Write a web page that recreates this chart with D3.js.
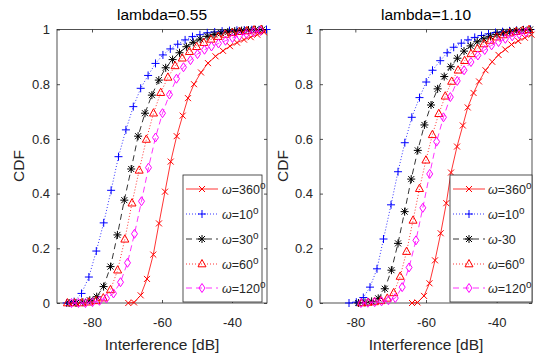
<!DOCTYPE html>
<html><head><meta charset="utf-8">
<script src="https://cdn.jsdelivr.net/npm/d3@7"></script>
<style>body{margin:0;background:#fff}svg{display:block}text{font-family:"Liberation Sans",Arial,sans-serif}</style>
</head><body><svg id="c" width="538" height="361"></svg>
<script>
// ---------- data ----------
const titles = ["lambda=0.55", "lambda=1.10"];
const xTicks = [-80, -60, -40];
const yTicks = [0, 0.2, 0.4, 0.6, 0.8, 1];
const yTickLabels = ["0", "0.2", "0.4", "0.6", "0.8", "1"];
const xLabel = "Interference [dB]";
const yLabel = "CDF";

// left panel (lambda=0.55)
const L360x = [-69.63,-68.0,-66.09,-64.29,-62.49,-60.86,-59.14,-57.51,-55.8,-54.09,-52.57,-50.86,-48.86,-46.86,-44.71,-42.57,-40.57,-38.57,-36.57,-34.66,-32.77,-30.86];
const L360y = [0,0.002,0.028,0.088,0.177,0.291,0.407,0.517,0.61,0.685,0.749,0.8,0.843,0.877,0.902,0.922,0.939,0.952,0.963,0.972,0.981,0.99];
const L10x = [-87.23,-85.11,-83.0,-80.89,-78.77,-76.66,-74.54,-72.43,-70.31,-68.2,-66.09,-63.97,-61.86,-59.74,-57.63,-55.51,-53.4,-51.29,-49.17,-47.06,-44.94,-42.83,-40.71,-38.6,-36.49,-34.37,-32.26,-30.14];
const L10y = [0,0.005,0.035,0.095,0.19,0.293,0.412,0.535,0.633,0.718,0.785,0.832,0.876,0.907,0.929,0.946,0.962,0.974,0.981,0.988,0.991,0.994,0.996,0.997,0.998,0.999,0.999,1.0];
const L30x = [-86.54,-84.57,-82.6,-80.63,-78.66,-76.69,-74.71,-72.74,-70.77,-68.8,-66.83,-64.86,-62.89,-60.91,-58.94,-56.97,-55.0,-53.03,-51.06,-49.09,-47.11,-45.14,-43.17,-41.2,-39.23,-37.26,-35.29,-33.31,-31.34];
const L30y = [0,0,0.003,0.01,0.023,0.06,0.133,0.249,0.376,0.49,0.61,0.694,0.76,0.815,0.86,0.89,0.915,0.937,0.953,0.965,0.975,0.982,0.987,0.991,0.994,0.996,0.998,0.999,1.0];
const L60x = [-87.03,-84.98,-82.93,-80.88,-78.82,-76.77,-74.72,-72.67,-70.62,-68.57,-66.52,-64.47,-62.42,-60.37,-58.31,-56.26,-54.21,-52.16,-50.11,-48.06,-46.01,-43.96,-41.91,-39.86,-37.8,-35.75,-33.7,-31.65];
const L60y = [0,0,0,0.003,0.008,0.018,0.048,0.12,0.233,0.365,0.485,0.598,0.694,0.769,0.825,0.867,0.895,0.919,0.937,0.952,0.964,0.974,0.982,0.988,0.992,0.995,0.998,1.0];
const L120x = [-85.86,-83.86,-81.86,-79.86,-77.86,-75.86,-73.86,-71.86,-69.86,-67.86,-65.86,-63.86,-61.86,-59.86,-57.86,-55.86,-53.86,-51.86,-49.86,-47.86,-45.86,-43.86,-41.86,-39.86,-37.86,-35.86,-33.86,-31.86];
const L120y = [0,0,0,0.003,0.008,0.017,0.035,0.076,0.147,0.253,0.372,0.495,0.605,0.694,0.762,0.82,0.862,0.888,0.91,0.926,0.938,0.949,0.959,0.969,0.977,0.984,0.99,0.995];

// right panel (lambda=1.10)
const R360x = [-63.96,-62.4,-60.56,-59.01,-57.45,-55.84,-54.25,-52.92,-51.22,-49.58,-48.19,-46.55,-44.99,-43.16,-41.26,-39.48,-37.58,-35.8,-33.9,-32.03,-30.14];
const R360y = [0,0.002,0.026,0.072,0.156,0.255,0.365,0.477,0.572,0.649,0.715,0.768,0.81,0.851,0.882,0.907,0.927,0.945,0.958,0.97,0.981];
const R10x = [-81.79,-79.73,-77.74,-75.85,-73.87,-72.03,-69.9,-67.92,-66.0,-64.02,-61.84,-59.94,-58.16,-55.98,-54.0,-52.16,-50.01,-48.11,-46.21,-44.29,-42.31,-40.33,-38.34,-36.36,-34.38,-32.4,-30.42];
const R10y = [0,0.003,0.02,0.058,0.125,0.234,0.359,0.48,0.586,0.679,0.751,0.808,0.851,0.886,0.915,0.935,0.95,0.962,0.971,0.978,0.984,0.989,0.992,0.995,0.997,0.999,1.0];
const R30x = [-79.13,-77.26,-75.39,-73.52,-71.66,-69.79,-67.92,-66.05,-64.18,-62.32,-60.45,-58.58,-56.71,-54.84,-52.98,-51.11,-49.24,-47.37,-45.5,-43.64,-41.77,-39.9,-38.03,-36.16,-34.3,-32.43,-30.56];
const R30y = [0,0.002,0.006,0.017,0.052,0.12,0.218,0.334,0.453,0.558,0.651,0.724,0.783,0.828,0.864,0.895,0.921,0.94,0.955,0.966,0.975,0.982,0.988,0.992,0.995,0.998,1.0];
const R60x = [-78.25,-76.43,-74.6,-72.78,-70.96,-69.14,-67.31,-65.49,-63.67,-61.84,-60.02,-58.2,-56.38,-54.55,-52.73,-50.91,-49.08,-47.26,-45.44,-43.62,-41.79,-39.97,-38.15,-36.32,-34.5,-32.68,-30.86];
const R60y = [0,0.002,0.004,0.008,0.017,0.037,0.097,0.188,0.302,0.418,0.522,0.615,0.692,0.756,0.81,0.851,0.886,0.911,0.93,0.947,0.96,0.972,0.98,0.987,0.992,0.996,0.999];
const R120x = [-78.42,-76.47,-74.53,-72.58,-70.63,-68.69,-66.74,-64.79,-62.85,-60.9,-58.95,-57.0,-55.06,-53.11,-51.16,-49.22,-47.27,-45.32,-43.38,-41.43,-39.48,-37.54,-35.59,-33.64,-31.7];
const R120y = [0,0.001,0.003,0.006,0.01,0.018,0.058,0.13,0.229,0.348,0.472,0.59,0.679,0.753,0.812,0.851,0.881,0.905,0.925,0.942,0.954,0.966,0.975,0.983,0.99];

const legendLeft = ["=360", "=10", "=30", "=60", "=120"];
const legendLeftSup = [true, true, true, true, true];
const legendRight = ["=360", "=10", "-30", "=60", "=120"];
const legendRightSup = [true, true, false, true, true];

// ---------- styles ----------
const styles = [
  {color: "#ff0000", marker: "x", dash: null},
  {color: "#0000ff", marker: "+", dash: "1,2"},
  {color: "#000000", marker: "*", dash: "6,4"},
  {color: "#ff0000", marker: "^", dash: "1,2"},
  {color: "#ff00ff", marker: "d", dash: "6,4"}
];
const markerPath = {
  "x": "M-3,-3L3,3M-3,3L3,-3",
  "+": "M-4,0H4M0,-4V4",
  "*": "M-4,0H4M0,-4V4M-3,-3L3,3M-3,3L3,-3",
  "^": "M0,-4.5L4,2.8L-4,2.8Z",
  "d": "M0,-4.5L3,0L0,4.5L-3,0Z"
};

const panels = [
  {title: titles[0], x0: 57, x1: 267, ylab: 19,
   series: [[L360x,L360y],[L10x,L10y],[L30x,L30y],[L60x,L60y],[L120x,L120y]],
   legend: {x: 183, w: 79, lx0: 186, lx1: 218, tx: 222, labels: legendLeft, sup: legendLeftSup}},
  {title: titles[1], x0: 320, x1: 532, ylab: 283,
   series: [[R360x,R360y],[R10x,R10y],[R30x,R30y],[R60x,R60y],[R120x,R120y]],
   legend: {x: 450, w: 82, lx0: 453, lx1: 485, tx: 488, labels: legendRight, sup: legendRightSup}}
];
const yTop = 29.5, yBot = 303;
const axisColor = "#262626";
const svg = d3.select("#c");

panels.forEach(p => {
  const x = d3.scaleLinear().domain([-90, -30]).range([p.x0, p.x1]);
  const y = d3.scaleLinear().domain([0, 1]).range([yBot, yTop]);
  const g = svg.append("g");

  // axes
  const gb = g.append("g").attr("transform", `translate(0,${yBot})`)
    .call(d3.axisBottom(x).tickValues(xTicks).tickSizeInner(-3).tickSizeOuter(0).tickPadding(15)
      .tickFormat(d => d < 0 ? "-" + Math.abs(d) : d));
  const gt = g.append("g").attr("transform", `translate(0,${yTop})`)
    .call(d3.axisTop(x).tickValues(xTicks).tickSizeInner(-3).tickSizeOuter(0).tickFormat(""));
  const gl = g.append("g").attr("transform", `translate(${p.x0},0)`)
    .call(d3.axisLeft(y).tickValues(yTicks).tickSizeInner(-3).tickSizeOuter(0).tickPadding(7)
      .tickFormat((d, i) => yTickLabels[i]));
  const gr = g.append("g").attr("transform", `translate(${p.x1},0)`)
    .call(d3.axisRight(y).tickValues(yTicks).tickSizeInner(-3).tickSizeOuter(0).tickFormat(""));
  [gb, gt, gl, gr].forEach(a => {
    a.select(".domain").remove();
    a.selectAll("line").attr("stroke", axisColor).attr("stroke-width", 0.8);
    a.selectAll("text").attr("fill", axisColor).style("font-size", "13px")
      .style("font-family", '"Liberation Sans",Arial,sans-serif');
  });
  g.append("rect").attr("x", p.x0).attr("y", yTop).attr("width", p.x1 - p.x0).attr("height", yBot - yTop)
    .attr("fill", "none").attr("stroke", axisColor).attr("stroke-width", 0.8);

  // titles and labels
  g.append("text").attr("x", (p.x0 + p.x1) / 2).attr("y", 20).attr("text-anchor", "middle")
    .style("font-size", "15.5px").attr("fill", "#000").text(p.title);
  g.append("text").attr("x", (p.x0 + p.x1) / 2).attr("y", 350).attr("text-anchor", "middle")
    .style("font-size", "15.5px").attr("fill", axisColor).text(xLabel);
  g.append("text").attr("transform", `translate(${p.ylab},166) rotate(-90)`).attr("text-anchor", "middle")
    .attr("dy", "0.35em").style("font-size", "15.5px").attr("fill", axisColor).text(yLabel);

  // series
  const line = d3.line().x(d => x(d[0])).y(d => y(d[1]));
  p.series.forEach((s, i) => {
    const st = styles[i];
    const pts = s[0].map((v, k) => [v, s[1][k]]);
    g.append("path").attr("d", line(pts)).attr("fill", "none").attr("stroke", st.color)
      .attr("stroke-width", 0.8).attr("stroke-dasharray", st.dash);
    g.selectAll(null).data(pts).enter().append("path")
      .attr("transform", d => `translate(${x(d[0])},${y(d[1])})`)
      .attr("d", markerPath[st.marker]).attr("fill", "none").attr("stroke", st.color).attr("stroke-width", 1);
  });

  // legend
  const L = p.legend;
  const lg = g.append("g");
  lg.append("rect").attr("x", L.x).attr("y", 175).attr("width", L.w).attr("height", 127)
    .attr("fill", "#fff").attr("stroke", axisColor).attr("stroke-width", 0.8);
  const rowY = [189, 214, 239, 264, 288];
  L.labels.forEach((lab, i) => {
    const st = styles[i];
    const ry = rowY[i];
    lg.append("line").attr("x1", L.lx0).attr("x2", L.lx1).attr("y1", ry).attr("y2", ry)
      .attr("stroke", st.color).attr("stroke-width", 0.8).attr("stroke-dasharray", st.dash);
    lg.append("path").attr("transform", `translate(${(L.lx0 + L.lx1) / 2},${ry})`)
      .attr("d", markerPath[st.marker]).attr("fill", "none").attr("stroke", st.color).attr("stroke-width", 1);
    const t = lg.append("text").attr("x", L.tx).attr("y", ry + 5).style("font-size", "12.5px").attr("fill", axisColor);
    t.append("tspan").style("font-style", "italic").text("ω");
    t.append("tspan").text(lab);
    if (L.sup[i]) t.append("tspan").attr("dy", "-5").style("font-size", "10px").text("o");
  });
});
</script></body></html>
